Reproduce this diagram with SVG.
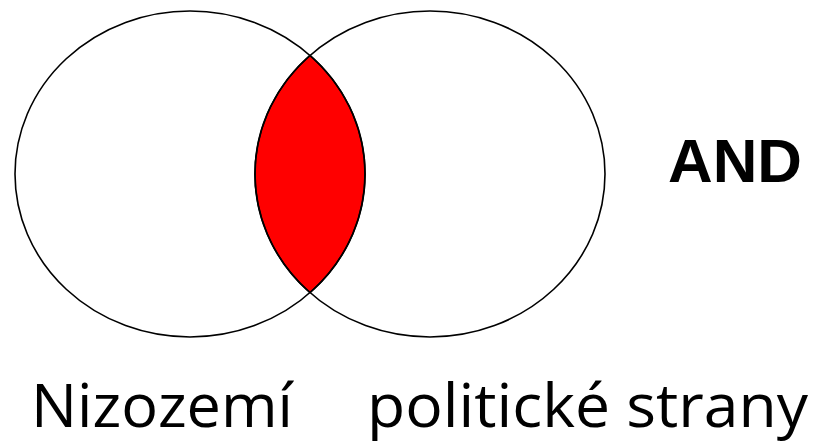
<svg xmlns="http://www.w3.org/2000/svg" width="816" height="443" viewBox="0 0 816 443">
<style>
.set{fill:none;stroke:#000;stroke-width:1.6}
.lens{fill:#ff0000;stroke:#000;stroke-width:1.6}
.lbl{font-family:"Open Sans","Liberation Sans",sans-serif;font-size:60px;fill:#000}
.op{font-family:"Liberation Sans",Arial,sans-serif;font-weight:bold;font-size:61px;fill:#000}
</style>
<rect width="816" height="443" fill="#fff"/>
<g id="intersection">
<path class="lens" d="M310,55.3 A175,163 0 0,1 310,292.7 A175,163 0 0,1 310,55.3 Z"/>
</g>
<g id="set-left">
<ellipse class="set" cx="190" cy="174" rx="175" ry="163"/>
</g>
<g id="set-right">
<ellipse class="set" cx="430" cy="174" rx="175" ry="163"/>
</g>
<g id="connectors"/>
<g id="operator">
<text class="op" x="668" y="182" textLength="134" lengthAdjust="spacingAndGlyphs">AND</text>
</g>
<g id="labels">
<text class="lbl" x="31" y="427" textLength="262" lengthAdjust="spacingAndGlyphs">Nizozemí</text>
<text class="lbl" x="367" y="427" textLength="441" lengthAdjust="spacingAndGlyphs">politické strany</text>
</g>
</svg>
